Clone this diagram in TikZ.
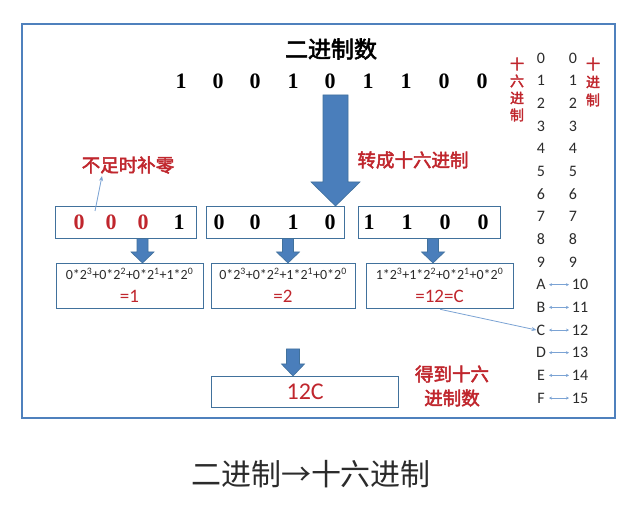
\documentclass[tikz,border=0pt]{standalone}
\usepackage{fontspec}
\setmainfont{Liberation Serif}
\newfontfamily\cjk{Noto Sans CJK SC}
\newfontfamily\cjkb[FakeBold=2.5]{Noto Sans CJK SC}
\newfontfamily\calf{Carlito}
\usetikzlibrary{arrows.meta}
\definecolor{frameblue}{HTML}{4F81BD}
\definecolor{boxblue}{HTML}{41719C}
\definecolor{arrowblue}{HTML}{4A7EBB}
\definecolor{thinblue}{HTML}{7BA3D4}
\definecolor{hred}{HTML}{C0262D}
\definecolor{txt}{HTML}{2B2B2B}
\newcommand\fs[1]{\fontsize{#1}{#1}\selectfont}
\newcommand\su[1]{\textsuperscript{#1}}
\tikzset{
  box/.style={draw=boxblue, line width=1.3pt, inner sep=0pt, anchor=north west},
  bigdig/.style={font=\fs{22}\bfseries, text=black, inner sep=0pt},
  reddig/.style={font=\fs{22}\bfseries, text=hred, inner sep=0pt},
  formula/.style={font=\calf\fs{14}, text=txt, inner sep=0pt},
  res/.style={font=\calf\fs{19}, text=hred, inner sep=0pt},
  redlbl/.style={font=\cjkb\fs{18.5}, text=hred, inner sep=0pt},
  vlbl/.style={font=\cjkb\fs{14}, text=hred, inner sep=0pt},
  tab/.style={font=\calf\fs{16}, text=txt, inner sep=0pt},
  blk/.style={fill=arrowblue, draw=boxblue, line width=0.6pt},
  thin/.style={draw=thinblue, line width=0.8pt, -{Stealth[length=5pt,width=4pt]}},
  dbl/.style={draw=thinblue, line width=0.5pt, {Stealth[length=3pt,width=3pt]}-{Stealth[length=3pt,width=3pt]}}
}
\begin{document}
\begin{tikzpicture}[x=1pt,y=-1pt]
\useasboundingbox (0,0) rectangle (641,516);
\fill[white] (0,0) rectangle (641,516);
\draw[frameblue, line width=2pt] (22,24) rectangle (615,418);

% title
\node[font=\cjkb\fs{23}, inner sep=0pt] (title) at (331,49) {二进制数};
\foreach \x/\d [count=\i] in {181/1,218/0,255/0,293/1,330/0,368/1,406/1,444/0,482/0}
  \node[bigdig] (b\i) at (\x,81) {\d};

% big arrow
\fill[blk] (323,95) -- (348,95) -- (348,182) -- (360,182) -- (335.5,206) -- (311,182) -- (323,182) -- cycle;

% labels
\node[redlbl] (fill0) at (128,165) {不足时补零};
\node[redlbl] (tohex) at (413,160) {转成十六进制};

% nibble boxes
\node[box, minimum width=141pt, minimum height=32pt] (n1) at (55,206) {};
\node[box, minimum width=138pt, minimum height=32pt] (n2) at (206,206) {};
\node[box, minimum width=142pt, minimum height=32pt] (n3) at (358,206) {};
\node[reddig] (d11) at (79,222) {0};
\node[reddig] (d12) at (111,222) {0};
\node[reddig] (d13) at (143,222) {0};
\node[bigdig] (d14) at (179,222) {1};
\node[bigdig] (d21) at (219,222) {0};
\node[bigdig] (d22) at (255,222) {0};
\node[bigdig] (d23) at (293,222) {1};
\node[bigdig] (d24) at (330,222) {0};
\node[bigdig] (d31) at (369,222) {1};
\node[bigdig] (d32) at (407,222) {1};
\node[bigdig] (d33) at (445,222) {0};
\node[bigdig] (d34) at (483,222) {0};

\coordinate (p0) at (95,211);
\coordinate (p1) at (102,176);
\draw[thin] (p0) -- (p1);

% small arrows
\foreach \c in {142.5,288,433}
  \fill[blk] (\c-5.5,238.5) -- (\c+5.5,238.5) -- (\c+5.5,252) -- (\c+11.5,252) -- (\c,263) -- (\c-11.5,252) -- (\c-5.5,252) -- cycle;

% result boxes
\node[box, minimum width=147pt, minimum height=45pt] (r1) at (56,263) {};
\node[box, minimum width=144pt, minimum height=45pt] (r2) at (211,263) {};
\node[box, minimum width=147pt, minimum height=45pt] (r3) at (366,263) {};
\node[formula] (f1) at (129.5,274) {0*2\su{3}+0*2\su{2}+0*2\su{1}+1*2\su{0}};
\node[formula] (f2) at (283,274) {0*2\su{3}+0*2\su{2}+1*2\su{1}+0*2\su{0}};
\node[formula] (f3) at (439.5,274) {1*2\su{3}+1*2\su{2}+0*2\su{1}+0*2\su{0}};
\node[res] (e1) at (129.5,296) {=1};
\node[res] (e2) at (283,296) {=2};
\node[res] (e3) at (439.5,296) {=12=C};

% final
\fill[blk] (286.5,349) -- (299.5,349) -- (299.5,364) -- (304.5,364) -- (293,376) -- (281.5,364) -- (286.5,364) -- cycle;
\node[box, minimum width=187pt, minimum height=31pt] (fin) at (211,376) {};
\node[font=\calf\fs{24}, text=hred, inner sep=0pt] (fint) at (fin.center) {12C};
\node[redlbl] (got1) at (452,374) {得到十六};
\node[redlbl] (got2) at (452,398) {进制数};

% table
\foreach \d [count=\i from 0] in {0,...,9} {
  \node[tab] (ta\i) at (541,{58+22.67*\i}) {\d};
  \node[tab] (tb\i) at (573,{58+22.67*\i}) {\d};
}
\foreach \L/\n [count=\i from 10] in {A/10,B/11,C/12,D/13,E/14,F/15} {
  \node[tab] (ta\i) at (541,{58+22.67*\i}) {\L};
  \node[tab] (tb\i) at (580,{58+22.67*\i}) {\n};
  \coordinate (l\i) at (549,{58+22.67*\i});
  \coordinate (rr\i) at (569,{58+22.67*\i});
  \draw[dbl] (l\i) -- (rr\i);
}
\foreach \ch/\yy [count=\i] in {十/64,六/81,进/98,制/115}
  \node[vlbl] (hx\i) at (517,\yy) {\ch};
\foreach \ch/\yy [count=\i] in {十/64,进/82,制/100}
  \node[vlbl] (dc\i) at (593,\yy) {\ch};

\draw[thin] (r3.south) -- (ta12.west);

% caption
\node[font=\cjk\fs{30}, text=txt, inner sep=0pt] (cap) at (311,474) {二进制→十六进制};
\end{tikzpicture}
\end{document}
